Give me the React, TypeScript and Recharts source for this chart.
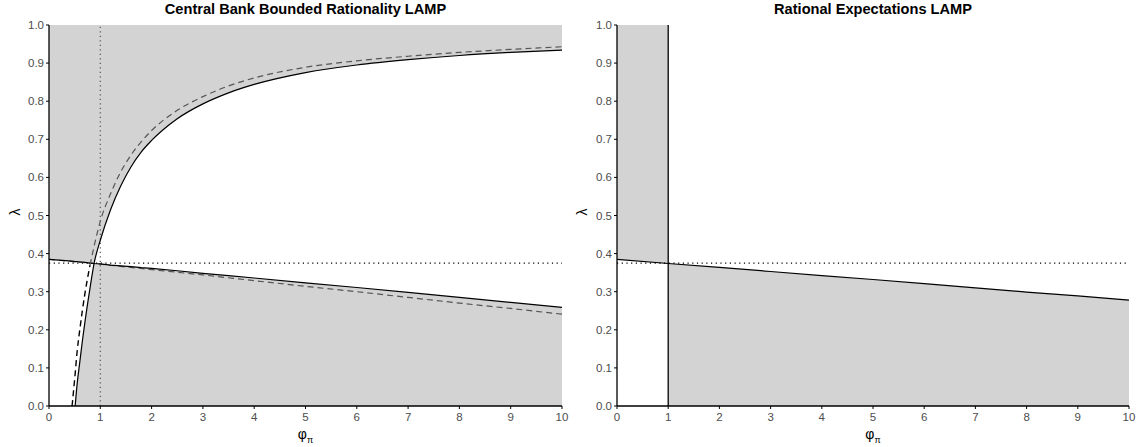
import {
  Area,
  ComposedChart,
  Line,
  ReferenceLine,
  XAxis,
  YAxis,
} from 'recharts';

// phi_pi grid for the bounded-rationality panel
const phiLeft = [0, 0.45, 0.51, 0.55, 0.6, 0.65, 0.7, 0.8, 0.88, 1, 1.2, 1.4, 1.6, 1.8, 2, 2.5, 3, 3.5, 4, 5, 6, 7, 8, 9, 10];
// upper LAMP boundary (solid) and the alternative calibration (dashed)
const lampBounded = [null, null, 0, 0.06, 0.115, 0.17, 0.22, 0.31, 0.375, 0.435, 0.515, 0.578, 0.628, 0.667, 0.697, 0.754, 0.793, 0.822, 0.844, 0.875, 0.895, 0.909, 0.92, 0.928, 0.934];
const lampBoundedAlt = [null, 0, 0.085, 0.145, 0.2, 0.25, 0.295, 0.37, 0.42, 0.485, 0.557, 0.615, 0.659, 0.694, 0.723, 0.776, 0.812, 0.84, 0.861, 0.889, 0.906, 0.918, 0.928, 0.936, 0.943];
// lower LAMP boundary (solid) and alternative (dashed)
const slopeBounded = [0.385, 0.38, 0.379, 0.379, 0.378, 0.378, 0.377, 0.375, 0.374, 0.373, 0.37, 0.368, 0.366, 0.363, 0.361, 0.355, 0.348, 0.342, 0.336, 0.323, 0.311, 0.298, 0.285, 0.272, 0.259];
const slopeBoundedAlt = [0.385, null, null, null, null, null, null, null, null, 0.372, null, null, null, null, 0.358, null, 0.344, null, 0.329, 0.314, 0.3, 0.285, 0.27, 0.256, 0.241];

// rational expectations panel
const phiRight = [0, 1, 2, 3, 4, 5, 6, 7, 8, 9, 10];
const slopeRational = [0.385, 0.374, 0.364, 0.353, 0.342, 0.332, 0.321, 0.31, 0.299, 0.289, 0.278];

const xTicks = [0, 1, 2, 3, 4, 5, 6, 7, 8, 9, 10];
const yTicks = [0, 0.1, 0.2, 0.3, 0.4, 0.5, 0.6, 0.7, 0.8, 0.9, 1];
const lambdaThreshold = 0.375;

const SHADE = '#d3d3d3';
const tickStyle = { fill: '#4d4d4d', fontSize: 11.5 };

const leftData = phiLeft.map((phi, i) => {
  const curve = lampBounded[i];
  const line = slopeBounded[i];
  const lo = curve == null ? line : Math.max(line, curve);
  return {
    phi,
    curve,
    line,
    altLow: phi <= 0.8 ? lampBoundedAlt[i] : null,
    altHigh: phi >= 0.8 ? lampBoundedAlt[i] : null,
    altLine: slopeBoundedAlt[i],
    upper: [lo, 1],
    lower: curve == null ? null : [0, Math.min(line, curve)],
  };
});

const rightData = phiRight.map((phi, i) => ({
  phi,
  line: slopeRational[i],
  upper: phi <= 1 ? [slopeRational[i], 1] : null,
  lower: phi >= 1 ? [0, slopeRational[i]] : null,
}));

const titleStyle: React.CSSProperties = {
  position: 'absolute',
  top: 1,
  fontWeight: 'bold',
  fontSize: 14.6,
  textAlign: 'center',
  color: '#000',
};

const xLabelStyle: React.CSSProperties = {
  position: 'absolute',
  top: 426,
  fontSize: 14,
  textAlign: 'center',
  color: '#000',
};

const yLabelStyle: React.CSSProperties = {
  position: 'absolute',
  top: 204,
  fontSize: 14,
  transform: 'rotate(-90deg)',
  color: '#000',
};

function renderAxes() {
  return [
    <XAxis
      key='x'
      dataKey='phi'
      type='number'
      domain={[0, 10]}
      ticks={xTicks}
      allowDataOverflow
      height={30}
      tickSize={3}
      tickMargin={4}
      tick={tickStyle}
      axisLine={{ stroke: '#000', strokeWidth: 1.3 }}
      tickLine={{ stroke: '#000' }}
    />,
    <YAxis
      key='y'
      type='number'
      domain={[0, 1]}
      ticks={yTicks}
      allowDataOverflow
      width={49}
      tickSize={3}
      tickMargin={2}
      tick={tickStyle}
      tickFormatter={(v: number) => v.toFixed(1)}
      axisLine={{ stroke: '#000', strokeWidth: 1.3 }}
      tickLine={{ stroke: '#000' }}
    />,
  ];
}

export default function App() {
  return (
    <div
      style={{
        position: 'absolute',
        left: 0,
        top: 0,
        width: 1138,
        height: 447,
        background: '#fff',
        fontFamily: '"Liberation Sans", Arial, sans-serif',
      }}
    >
      <div style={{ ...titleStyle, left: 49, width: 513 }}>
        Central Bank Bounded Rationality LAMP
      </div>
      <div style={{ ...titleStyle, left: 617, width: 512 }}>
        Rational Expectations LAMP
      </div>

      <div style={{ position: 'absolute', left: 0, top: 0 }}>
        <ComposedChart
          width={569}
          height={447}
          data={leftData}
          margin={{ top: 25, right: 7, bottom: 11, left: 0 }}
        >
          {renderAxes()}
          <Area
            dataKey='upper'
            type='linear'
            stroke='none'
            fill={SHADE}
            fillOpacity={1}
            isAnimationActive={false}
          />
          <Area
            dataKey='lower'
            type='linear'
            stroke='none'
            fill={SHADE}
            fillOpacity={1}
            isAnimationActive={false}
          />
          <ReferenceLine
            x={1}
            stroke='#555'
            strokeWidth={1.2}
            strokeDasharray='1.2 3.3'
          />
          <ReferenceLine
            y={lambdaThreshold}
            stroke='#000'
            strokeWidth={1.2}
            strokeDasharray='1.2 3.5'
          />
          <Line
            dataKey='altLine'
            type='linear'
            stroke='#555'
            strokeWidth={1.2}
            strokeDasharray='6 4'
            dot={false}
            connectNulls
            isAnimationActive={false}
          />
          <Line
            dataKey='line'
            type='linear'
            stroke='#000'
            strokeWidth={1.2}
            dot={false}
            isAnimationActive={false}
          />
          <Line
            dataKey='altLow'
            type='monotone'
            stroke='#000'
            strokeWidth={1.4}
            strokeDasharray='6 4'
            dot={false}
            isAnimationActive={false}
          />
          <Line
            dataKey='altHigh'
            type='monotone'
            stroke='#555'
            strokeWidth={1.2}
            strokeDasharray='6 4'
            dot={false}
            isAnimationActive={false}
          />
          <Line
            dataKey='curve'
            type='monotone'
            stroke='#000'
            strokeWidth={1.2}
            dot={false}
            isAnimationActive={false}
          />
        </ComposedChart>
      </div>

      <div style={{ position: 'absolute', left: 568, top: 0 }}>
        <ComposedChart
          width={569}
          height={447}
          data={rightData}
          margin={{ top: 25, right: 8, bottom: 11, left: 0 }}
        >
          {renderAxes()}
          <Area
            dataKey='upper'
            type='linear'
            stroke='none'
            fill={SHADE}
            fillOpacity={1}
            isAnimationActive={false}
          />
          <Area
            dataKey='lower'
            type='linear'
            stroke='none'
            fill={SHADE}
            fillOpacity={1}
            isAnimationActive={false}
          />
          <ReferenceLine
            y={lambdaThreshold}
            stroke='#000'
            strokeWidth={1.2}
            strokeDasharray='1.2 3.5'
          />
          <ReferenceLine x={1} stroke='#000' strokeWidth={1.3} />
          <Line
            dataKey='line'
            type='linear'
            stroke='#000'
            strokeWidth={1.2}
            dot={false}
            isAnimationActive={false}
          />
        </ComposedChart>
      </div>

      <div style={{ ...xLabelStyle, left: 49, width: 513 }}>
        φ<sub style={{ fontSize: 9 }}>π</sub>
      </div>
      <div style={{ ...xLabelStyle, left: 617, width: 512 }}>
        φ<sub style={{ fontSize: 9 }}>π</sub>
      </div>
      <div style={{ ...yLabelStyle, left: 11 }}>λ</div>
      <div style={{ ...yLabelStyle, left: 578 }}>λ</div>
    </div>
  );
}
